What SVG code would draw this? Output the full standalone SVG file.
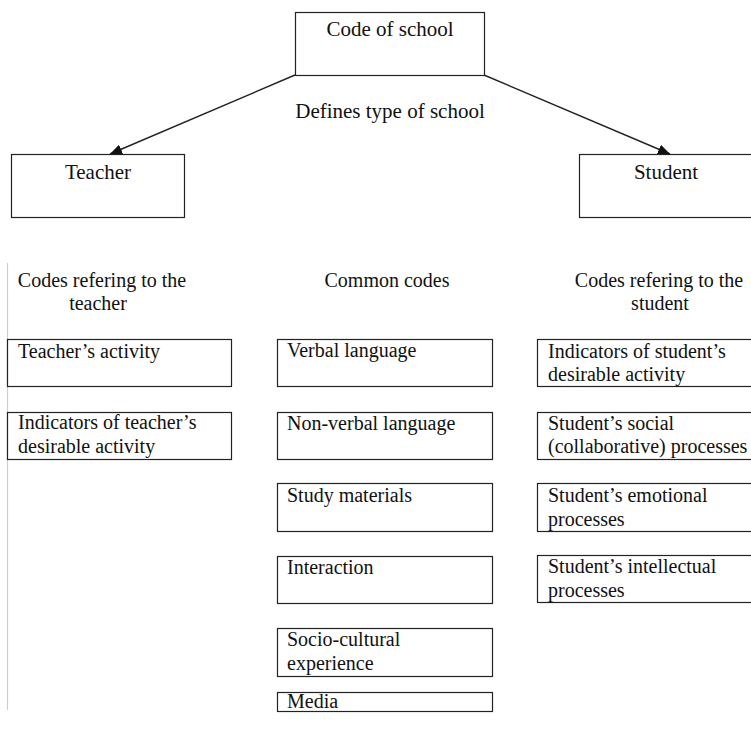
<svg xmlns="http://www.w3.org/2000/svg" width="751" height="729" viewBox="0 0 751 729">
  <defs>
    <marker id="arrow" viewBox="0 0 12 10" refX="12" refY="5" markerWidth="12" markerHeight="10" markerUnits="userSpaceOnUse" orient="auto">
      <path d="M0,0 L12,5 L0,10 Z" fill="#111"/>
    </marker>
  </defs>
  <style>
    text { font-family: 'Liberation Serif', 'Times New Roman', Times, 'DejaVu Serif', serif; font-size: 20px; fill: #111; }
    .big { font-size: 21px; }
    .mid { text-anchor: middle; }
    rect.box { fill: #fff; stroke: #222; stroke-width: 1.2; }
    .conn { stroke: #222; stroke-width: 1.4; fill: none; }
  </style>
  <rect width="751" height="729" fill="#fff"/>

  <!-- left margin rule -->
  <line x1="7.5" y1="263" x2="7.5" y2="710" stroke="#cfcfcf" stroke-width="1.2"/>

  <!-- connectors -->
  <g id="connectors">
    <line class="conn" x1="295" y1="75" x2="110" y2="154" marker-end="url(#arrow)"/>
    <line class="conn" x1="484" y1="75" x2="670" y2="154" marker-end="url(#arrow)"/>
  </g>

  <g id="code-of-school">
    <rect class="box" x="295.5" y="12.5" width="189" height="63"/>
    <text class="big mid" x="390" y="36" font-family="Liberation Serif, serif">Code of school</text>
  </g>

  <g id="edge-label">
    <text class="big mid" x="390" y="118">Defines type of school</text>
  </g>

  <g id="teacher">
    <rect class="box" x="11.5" y="154.5" width="173" height="63"/>
    <text class="big mid" x="98" y="179">Teacher</text>
  </g>

  <g id="student">
    <rect class="box" x="579.5" y="154.5" width="190" height="63"/>
    <text class="big mid" x="666" y="179">Student</text>
  </g>

  <!-- column headers -->
  <g id="header-teacher">
    <text class="mid" x="102" y="287">Codes refering to the</text>
    <text class="mid" x="98" y="310">teacher</text>
  </g>
  <g id="header-common">
    <text class="mid" x="387" y="287">Common codes</text>
  </g>
  <g id="header-student">
    <text class="mid" x="659" y="287">Codes refering to the</text>
    <text class="mid" x="660" y="310">student</text>
  </g>

  <!-- teacher codes -->
  <g id="teacher-activity">
    <rect class="box" x="7.5" y="339.5" width="224" height="47"/>
    <text x="18" y="358">Teacher’s activity</text>
  </g>
  <g id="teacher-indicators">
    <rect class="box" x="7.5" y="412.5" width="224" height="47"/>
    <text x="18" y="429">Indicators of teacher’s</text>
    <text x="18" y="453">desirable activity</text>
  </g>

  <!-- common codes -->
  <g id="verbal-language">
    <rect class="box" x="277.5" y="339.5" width="215" height="47"/>
    <text x="287" y="357">Verbal language</text>
  </g>
  <g id="non-verbal-language">
    <rect class="box" x="277.5" y="412.5" width="215" height="47"/>
    <text x="287" y="430">Non-verbal language</text>
  </g>
  <g id="study-materials">
    <rect class="box" x="277.5" y="483.5" width="215" height="48"/>
    <text x="287" y="502">Study materials</text>
  </g>
  <g id="interaction">
    <rect class="box" x="277.5" y="556.5" width="215" height="47"/>
    <text x="287" y="574">Interaction</text>
  </g>
  <g id="socio-cultural">
    <rect class="box" x="277.5" y="628.5" width="215" height="48"/>
    <text x="287" y="646">Socio-cultural</text>
    <text x="287" y="670">experience</text>
  </g>
  <g id="media">
    <rect class="box" x="277.5" y="692.5" width="215" height="19"/>
    <text x="287" y="708">Media</text>
  </g>

  <!-- student codes -->
  <g id="student-indicators">
    <rect class="box" x="537.5" y="339.5" width="230" height="47"/>
    <text x="548" y="358">Indicators of student’s</text>
    <text x="548" y="381">desirable activity</text>
  </g>
  <g id="student-social">
    <rect class="box" x="537.5" y="412.5" width="230" height="47"/>
    <text x="548" y="430">Student’s social</text>
    <text x="548" y="453">(collaborative) processes</text>
  </g>
  <g id="student-emotional">
    <rect class="box" x="537.5" y="483.5" width="230" height="48"/>
    <text x="548" y="502">Student’s emotional</text>
    <text x="548" y="526">processes</text>
  </g>
  <g id="student-intellectual">
    <rect class="box" x="537.5" y="555.5" width="230" height="47"/>
    <text x="548" y="573">Student’s intellectual</text>
    <text x="548" y="597">processes</text>
  </g>
</svg>
